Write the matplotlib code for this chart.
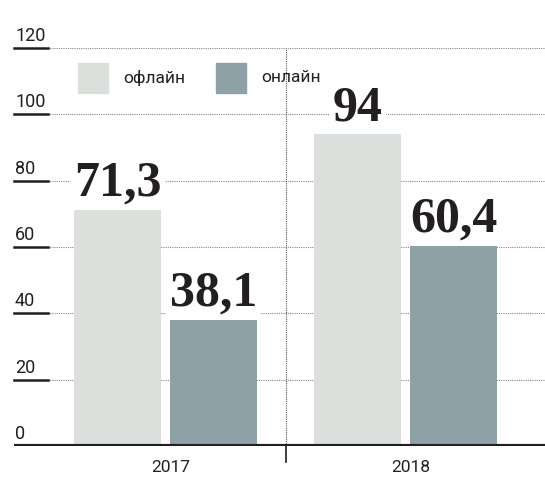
import matplotlib.pyplot as plt
import numpy as np

# data
years = ['2017', '2018']
offline = [71.3, 94]
online = [38.1, 60.4]
offline_labels = ['71,3', '94']
online_labels = ['38,1', '60,4']
series_names = ['офлайн', 'онлайн']
yticks = [0, 20, 40, 60, 80, 100, 120]

c_off = '#dbe0dd'
c_on = '#8ea1a7'
c_text = '#231f20'

plt.rcParams['font.family'] = ['Roboto', 'DejaVu Sans']

fig = plt.figure(figsize=(5.45, 4.82), dpi=100)
ax = fig.add_axes([14 / 545, 36 / 482, 531 / 545, 398 / 482])

x = np.arange(len(years))
w = 0.3625
ax.bar(x - 0.2, offline, w, color=c_off, zorder=3)
ax.bar(x + 0.2, online, w, color=c_on, zorder=3)

ax.set_xlim(-0.631, 1.581)
ax.set_ylim(0, 120)

# dotted grid + labels
for t in yticks:
    if t > 0:
        ax.axhline(t, color='#888888', lw=0.8, ls=(0, (1, 1)), zorder=1)
        ax.plot([0, 34 / 531], [t, t], color=c_text, lw=1.8,
                transform=ax.get_yaxis_transform(), zorder=3, clip_on=False)
    ax.text(0.002, t + 2.1, str(t), transform=ax.get_yaxis_transform(),
            ha='left', va='baseline', fontsize=13, color=c_text)

# divider between years
ax.axvline(0.5, color='#555555', lw=0.8, ls=(0, (1, 1)), zorder=1)
ax.plot([0.5, 0.5], [0, -16 / 398], color=c_text, lw=1.2,
        transform=ax.get_xaxis_transform(), clip_on=False)

# baseline
ax.axhline(0, color=c_text, lw=3, zorder=4)

# value labels (white box hides the grid, bars drawn over it)
for xi, v, lab in zip(x - 0.2, offline, offline_labels):
    ax.annotate(lab, (xi, v), xytext=(0, 10), textcoords='offset points',
                ha='center', va='baseline', fontsize=36, fontweight='bold',
                family='Liberation Serif', color=c_text, zorder=2,
                bbox=dict(facecolor='white', edgecolor='none', pad=3))
for xi, v, lab in zip(x + 0.2, online, online_labels):
    ax.annotate(lab, (xi, v), xytext=(0, 10), textcoords='offset points',
                ha='center', va='baseline', fontsize=36, fontweight='bold',
                family='Liberation Serif', color=c_text, zorder=2,
                bbox=dict(facecolor='white', edgecolor='none', pad=3))

# year labels
for xi, y in zip(x, years):
    ax.text(xi + 0.02, -22 / 398, y, transform=ax.get_xaxis_transform(),
            ha='center', va='center', fontsize=12.5, color=c_text)

# legend
leg_x = [-0.365, 0.21]
for lx, name, c in zip(leg_x, series_names, [c_off, c_on]):
    ax.add_patch(plt.Rectangle((lx, 106.4), 0.125, 9.0, color=c, zorder=3))
    ax.text(lx + 0.19, 111, name, ha='left', va='center', fontsize=12.5,
            color=c_text, zorder=3)

for s in ax.spines.values():
    s.set_visible(False)
ax.set_xticks([])
ax.set_yticks([])

fig.savefig('out.png', dpi=100)
